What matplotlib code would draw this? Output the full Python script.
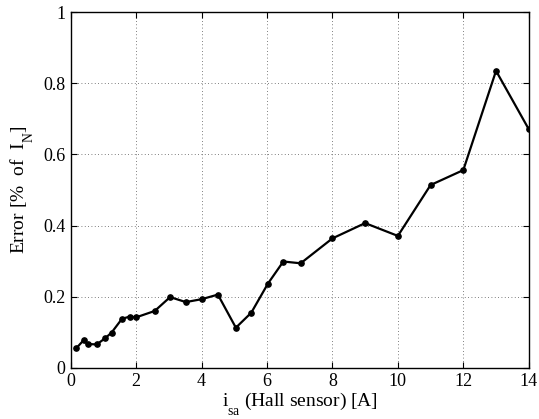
import matplotlib
matplotlib.use("Agg")
import matplotlib.pyplot as plt
import matplotlib._mathtext as _mt

current = [0.17, 0.40, 0.52, 0.80, 1.05, 1.25, 1.57, 1.80, 2.00, 2.57, 3.04, 3.52,
           4.00, 4.50, 5.05, 5.52, 6.03, 6.50, 7.03, 8.0, 9.0, 10.0, 11.0, 12.0, 13.0, 14.0]
error = [0.055, 0.078, 0.067, 0.066, 0.083, 0.099, 0.138, 0.144, 0.142, 0.160, 0.199, 0.185,
         0.193, 0.206, 0.113, 0.155, 0.237, 0.299, 0.294, 0.364, 0.407, 0.371, 0.514, 0.556,
         0.835, 0.671]
xticks = [0, 2, 4, 6, 8, 10, 12, 14]
yticks = [0, 0.2, 0.4, 0.6, 0.8, 1.0]
yticklabels = ["0", "0.2", "0.4", "0.6", "0.8", "1"]

# deeper subscripts, like the reference
_mt.FontConstantsBase.sub1 = 1.0

plt.rcParams['font.family'] = ['Liberation Serif', 'DejaVu Serif']
plt.rcParams['mathtext.fontset'] = 'custom'
plt.rcParams['mathtext.rm'] = 'Liberation Serif'
plt.rcParams['mathtext.it'] = 'Liberation Serif:italic'

fig = plt.figure(figsize=(5.39, 4.19), dpi=100)
ax = fig.add_axes([0.131, 0.122, 0.850, 0.849])
ax.plot(current, error, color='black', lw=1.6, marker='o', markersize=3.8)
ax.set_xlim(0, 14)
ax.set_ylim(0, 1)
ax.set_xticks(xticks)
ax.set_yticks(yticks)
ax.set_yticklabels(yticklabels)
ax.grid(True, linestyle=(0, (1, 3)), color='#555555', lw=0.6)
ax.tick_params(direction='in', top=True, right=True, labelsize=13, length=4, width=0.8)
for s in ax.spines.values():
    s.set_linewidth(1.0)
ax.set_xlabel(r"i$_{\mathrm{sa}}$ (Hall sensor) [A]", fontsize=14, labelpad=0)
ax.set_ylabel(r"Error [%  of  I$_{\mathrm{N}}$]", fontsize=14, labelpad=6)
fig.savefig("out.png", dpi=100)
